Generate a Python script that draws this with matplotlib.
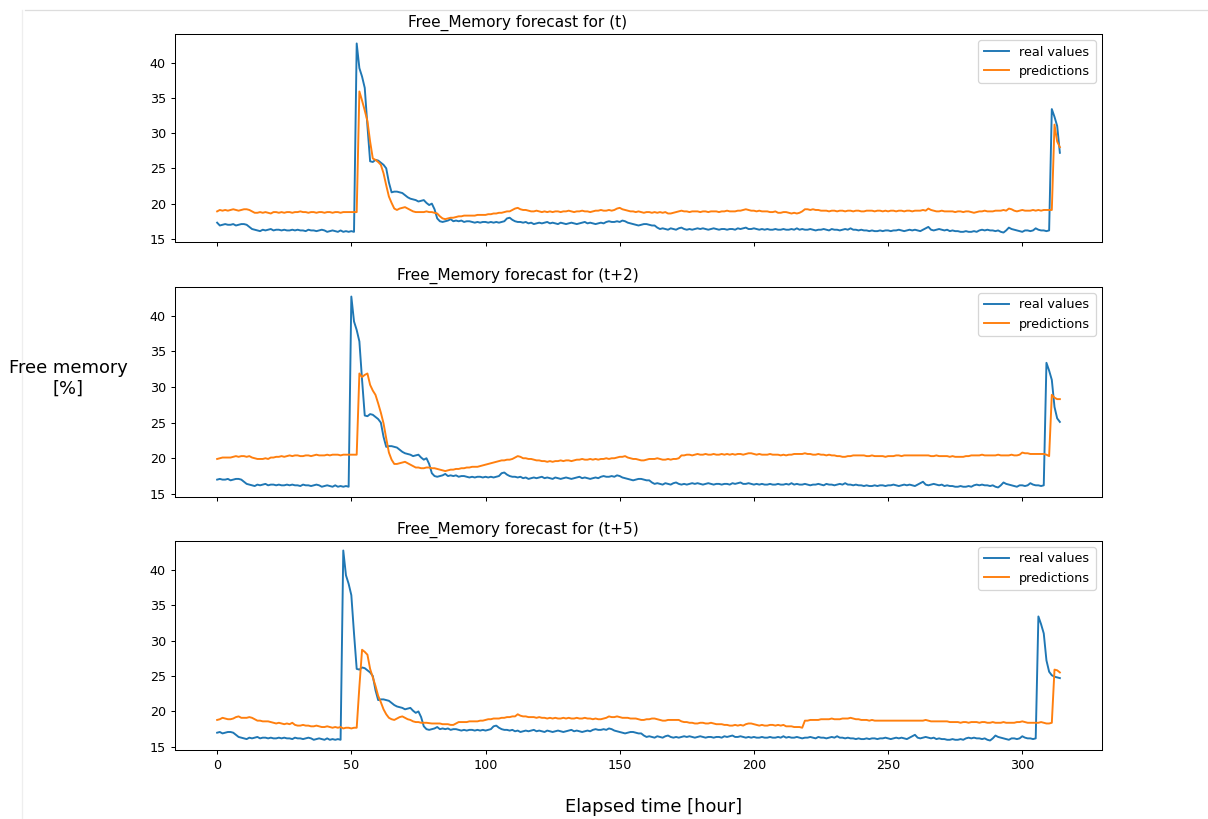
import numpy as np
import matplotlib.pyplot as plt
from matplotlib.lines import Line2D

# Free memory [%] -- one observed series; panel k shows it shifted by its forecast step
real_base = [
    17.3, 16.9, 17.0, 17.1, 17.0, 17.0, 17.1, 16.9, 17.0, 17.1,
    17.1, 17.0, 16.7, 16.4, 16.3, 16.2, 16.1, 16.3, 16.2, 16.3,
    16.4, 16.2, 16.3, 16.3, 16.2, 16.3, 16.2, 16.2, 16.3, 16.2,
    16.3, 16.2, 16.2, 16.1, 16.3, 16.2, 16.2, 16.1, 16.2, 16.3,
    16.2, 16.0, 16.1, 16.2, 16.1, 16.0, 16.2, 16.0, 16.1, 16.0,
    16.1, 16.0, 42.7, 39.2, 38.0, 36.4, 31.0, 26.0, 25.9, 26.2,
    26.1, 25.8, 25.5, 25.0, 23.0, 21.6, 21.7, 21.7, 21.6, 21.5,
    21.2, 20.9, 20.7, 20.6, 20.5, 20.3, 20.4, 20.5, 20.1, 19.8,
    20.0, 19.2, 17.9, 17.5, 17.4, 17.5, 17.6, 17.8, 17.5, 17.6,
    17.5, 17.6, 17.4, 17.5, 17.5, 17.4, 17.3, 17.4, 17.3, 17.4,
    17.4, 17.3, 17.4, 17.3, 17.4, 17.3, 17.4, 17.5, 17.9, 18.0,
    17.7, 17.5, 17.4, 17.4, 17.3, 17.4, 17.2, 17.3, 17.1, 17.2,
    17.3, 17.2, 17.3, 17.4, 17.2, 17.3, 17.2, 17.1, 17.3, 17.2,
    17.1, 17.2, 17.3, 17.2, 17.1, 17.2, 17.3, 17.4, 17.2, 17.3,
    17.2, 17.1, 17.2, 17.3, 17.2, 17.4, 17.5, 17.4, 17.4, 17.5,
    17.4, 17.6, 17.5, 17.3, 17.2, 17.1, 17.0, 16.9, 17.0, 17.1,
    17.1, 17.0, 16.9, 16.9, 16.6, 16.4, 16.5, 16.4, 16.3, 16.5,
    16.4, 16.3, 16.5, 16.6, 16.4, 16.3, 16.4, 16.3, 16.4, 16.5,
    16.4, 16.5, 16.4, 16.3, 16.4, 16.5, 16.4, 16.3, 16.4, 16.4,
    16.3, 16.4, 16.4, 16.3, 16.5, 16.4, 16.5, 16.6, 16.4, 16.4,
    16.5, 16.4, 16.3, 16.4, 16.3, 16.4, 16.3, 16.3, 16.4, 16.3,
    16.3, 16.4, 16.3, 16.3, 16.4, 16.3, 16.5, 16.3, 16.4, 16.3,
    16.3, 16.4, 16.3, 16.2, 16.3, 16.3, 16.4, 16.3, 16.2, 16.4,
    16.3, 16.3, 16.2, 16.3, 16.4, 16.3, 16.5, 16.3, 16.3, 16.2,
    16.3, 16.2, 16.2, 16.1, 16.2, 16.1, 16.1, 16.2, 16.1, 16.2,
    16.2, 16.1, 16.2, 16.2, 16.3, 16.2, 16.1, 16.2, 16.3, 16.2,
    16.3, 16.2, 16.1, 16.3, 16.5, 16.7, 16.3, 16.2, 16.3, 16.4,
    16.3, 16.2, 16.3, 16.1, 16.2, 16.1, 16.1, 16.0, 16.0, 16.1,
    16.0, 16.0, 16.1, 16.0, 16.2, 16.3, 16.2, 16.3, 16.2, 16.2,
    16.1, 16.2, 16.0, 15.9, 16.2, 16.6, 16.4, 16.3, 16.2, 16.1,
    16.0, 16.2, 16.2, 16.1, 16.2, 16.5, 16.3, 16.2, 16.2, 16.1,
    16.2, 33.4, 32.3, 31.0, 27.2, 25.6, 25.1, 24.9, 24.8, 24.7,
]

pred_t = [
    18.9, 19.1, 19.0, 19.1, 19.0, 19.1, 19.2, 19.1, 19.0, 19.1,
    19.2, 19.2, 19.1, 18.9, 18.7, 18.7, 18.8, 18.7, 18.8, 18.7,
    18.6, 18.8, 18.8, 18.7, 18.8, 18.7, 18.8, 18.8, 18.7, 18.8,
    18.8, 18.9, 18.8, 18.8, 18.7, 18.8, 18.8, 18.7, 18.8, 18.8,
    18.7, 18.8, 18.8, 18.7, 18.8, 18.8, 18.7, 18.8, 18.8, 18.8,
    18.8, 18.8, 18.8, 35.9, 34.6, 33.2, 31.7, 28.8, 26.4, 26.2,
    25.9, 25.5, 24.3, 22.6, 21.0, 20.1, 19.3, 19.1, 19.3, 19.4,
    19.5, 19.3, 19.1, 18.9, 18.8, 18.8, 18.8, 18.8, 18.9, 18.8,
    18.8, 18.7, 18.6, 18.2, 17.9, 17.8, 17.9, 18.0, 18.0, 18.1,
    18.2, 18.2, 18.3, 18.3, 18.3, 18.3, 18.3, 18.4, 18.4, 18.4,
    18.4, 18.5, 18.5, 18.6, 18.6, 18.7, 18.7, 18.8, 18.9, 18.9,
    19.1, 19.3, 19.4, 19.2, 19.1, 19.1, 19.0, 18.9, 18.9, 19.0,
    18.9, 18.8, 18.9, 18.8, 18.9, 18.8, 18.9, 18.9, 18.8, 18.9,
    18.9, 19.0, 18.9, 18.8, 18.9, 18.9, 19.0, 18.9, 18.9, 18.8,
    18.9, 19.0, 19.0, 19.1, 19.0, 19.0, 19.1, 19.0, 19.1, 19.3,
    19.4, 19.2, 19.1, 19.0, 18.9, 18.9, 18.8, 18.9, 18.8, 18.7,
    18.8, 18.8, 18.7, 18.8, 18.7, 18.8, 18.7, 18.8, 18.6, 18.6,
    18.7, 18.8, 18.9, 19.0, 18.9, 18.9, 18.8, 18.9, 18.9, 18.9,
    18.8, 18.9, 18.9, 18.8, 18.9, 18.9, 18.9, 18.8, 18.9, 18.9,
    19.0, 18.9, 18.9, 18.9, 19.0, 19.0, 19.1, 19.2, 19.1, 19.0,
    19.0, 18.9, 19.0, 18.9, 18.9, 18.9, 18.8, 18.8, 18.9, 18.7,
    18.7, 18.8, 18.8, 18.7, 18.6, 18.7, 18.6, 18.7, 18.9, 19.2,
    19.2, 19.1, 19.2, 19.1, 19.1, 19.0, 19.0, 19.0, 18.9, 19.0,
    19.0, 18.9, 19.0, 19.0, 18.9, 19.0, 19.0, 18.9, 19.0, 19.0,
    18.9, 18.9, 19.0, 19.0, 19.0, 18.9, 19.0, 19.0, 18.9, 19.0,
    18.9, 19.0, 19.0, 18.9, 19.0, 19.0, 18.9, 19.0, 19.0, 18.9,
    19.0, 19.0, 19.0, 19.1, 19.0, 19.3, 19.1, 19.0, 18.9, 18.9,
    19.0, 18.9, 18.9, 18.9, 18.9, 18.8, 18.9, 18.9, 18.8, 18.9,
    18.9, 18.8, 18.7, 18.8, 18.9, 18.9, 19.0, 18.9, 18.9, 18.9,
    19.0, 19.0, 19.0, 19.1, 19.0, 19.3, 19.2, 19.0, 18.9, 19.0,
    19.1, 19.0, 19.0, 19.0, 19.1, 19.0, 19.1, 19.0, 19.1, 19.1,
    19.1, 19.1, 31.2, 28.8, 28.0,
]

pred_t2 = [
    19.9, 20.0, 20.1, 20.1, 20.1, 20.1, 20.2, 20.3, 20.2, 20.3,
    20.3, 20.2, 20.3, 20.1, 20.0, 19.9, 19.9, 19.9, 20.0, 19.9,
    20.1, 20.1, 20.2, 20.2, 20.3, 20.2, 20.3, 20.4, 20.3, 20.4,
    20.4, 20.3, 20.3, 20.4, 20.4, 20.3, 20.4, 20.5, 20.4, 20.4,
    20.4, 20.5, 20.4, 20.5, 20.5, 20.5, 20.4, 20.5, 20.5, 20.5,
    20.5, 20.5, 20.5, 31.9, 31.4, 31.7, 31.9, 30.3, 29.5, 28.9,
    27.7, 26.4, 24.9, 22.8, 20.8, 19.8, 19.2, 19.2, 19.3, 19.4,
    19.5, 19.3, 19.1, 18.9, 18.7, 18.7, 18.6, 18.6, 18.7, 18.7,
    18.6, 18.6, 18.5, 18.4, 18.3, 18.2, 18.3, 18.4, 18.4, 18.5,
    18.5, 18.6, 18.6, 18.7, 18.7, 18.8, 18.8, 18.8, 18.9, 19.0,
    19.1, 19.2, 19.3, 19.4, 19.5, 19.6, 19.7, 19.7, 19.8, 19.8,
    19.9, 20.1, 20.3, 20.2, 20.0, 20.0, 19.9, 19.9, 19.8, 19.7,
    19.7, 19.6, 19.6, 19.5, 19.6, 19.5, 19.6, 19.6, 19.7, 19.6,
    19.7, 19.7, 19.6, 19.7, 19.8, 19.8, 19.9, 19.8, 19.8, 19.9,
    19.8, 19.9, 19.8, 19.9, 19.9, 20.0, 19.9, 20.0, 20.0, 20.1,
    20.2, 20.2, 20.3, 20.1, 20.0, 19.9, 19.9, 19.8, 19.7, 19.7,
    19.8, 19.9, 19.9, 19.9, 20.0, 19.9, 19.8, 19.8, 19.9, 19.8,
    19.9, 19.9, 20.0, 20.4, 20.4, 20.5, 20.5, 20.4, 20.5, 20.6,
    20.5, 20.5, 20.6, 20.5, 20.5, 20.6, 20.5, 20.5, 20.6, 20.5,
    20.6, 20.5, 20.6, 20.5, 20.6, 20.6, 20.5, 20.6, 20.7, 20.7,
    20.6, 20.5, 20.6, 20.5, 20.5, 20.5, 20.6, 20.5, 20.5, 20.5,
    20.4, 20.5, 20.4, 20.5, 20.5, 20.6, 20.6, 20.6, 20.6, 20.7,
    20.6, 20.6, 20.5, 20.5, 20.6, 20.5, 20.5, 20.4, 20.5, 20.4,
    20.4, 20.3, 20.3, 20.2, 20.2, 20.3, 20.3, 20.4, 20.4, 20.4,
    20.4, 20.4, 20.3, 20.3, 20.4, 20.3, 20.3, 20.3, 20.3, 20.2,
    20.3, 20.3, 20.3, 20.4, 20.4, 20.3, 20.4, 20.4, 20.4, 20.4,
    20.4, 20.4, 20.4, 20.4, 20.4, 20.4, 20.3, 20.3, 20.4, 20.3,
    20.3, 20.3, 20.3, 20.2, 20.3, 20.2, 20.2, 20.2, 20.2, 20.3,
    20.3, 20.4, 20.4, 20.4, 20.4, 20.5, 20.4, 20.4, 20.4, 20.4,
    20.4, 20.5, 20.4, 20.4, 20.4, 20.4, 20.5, 20.4, 20.4, 20.5,
    20.8, 20.7, 20.7, 20.6, 20.6, 20.6, 20.6, 20.6, 20.6, 20.5,
    20.3, 28.9, 28.5, 28.3, 28.3,
]

pred_t5 = [
    18.8, 18.9, 19.1, 19.0, 18.9, 18.9, 19.0, 19.2, 19.3, 19.1,
    19.1, 19.1, 19.2, 19.1, 18.9, 18.7, 18.7, 18.6, 18.6, 18.6,
    18.5, 18.4, 18.3, 18.4, 18.3, 18.2, 18.3, 18.2, 18.4, 18.1,
    18.0, 18.0, 18.1, 18.0, 18.0, 17.9, 17.9, 18.0, 17.9, 17.8,
    17.8, 17.9, 17.8, 17.7, 17.8, 17.7, 17.8, 17.6, 17.7, 17.7,
    17.6, 17.7, 17.7, 23.5, 28.7, 28.4, 28.0, 26.0, 24.8, 23.6,
    22.2, 21.3, 20.3, 19.6, 19.1, 18.9, 18.8, 19.0, 19.2, 19.3,
    19.1, 18.9, 18.8, 18.6, 18.5, 18.5, 18.4, 18.4, 18.4, 18.35,
    18.3, 18.3, 18.3, 18.3, 18.2, 18.2, 18.2, 18.1, 18.1, 18.3,
    18.5, 18.5, 18.5, 18.5, 18.6, 18.6, 18.6, 18.6, 18.7, 18.7,
    18.8, 18.9, 18.9, 19.0, 19.0, 19.0, 19.1, 19.1, 19.2, 19.2,
    19.3, 19.3, 19.6, 19.4, 19.3, 19.3, 19.2, 19.2, 19.2, 19.1,
    19.2, 19.1, 19.1, 19.0, 19.1, 19.0, 19.1, 19.0, 19.0, 19.1,
    19.0, 19.1, 19.0, 19.0, 19.1, 19.0, 19.0, 19.1, 19.0, 19.0,
    18.9, 19.0, 18.9, 18.9, 19.0, 19.1, 19.3, 19.2, 19.2, 19.3,
    19.2, 19.1, 19.1, 19.1, 19.0, 19.0, 19.0, 18.9, 18.8, 18.8,
    18.9, 18.9, 19.0, 19.0, 18.9, 18.8, 18.7, 18.7, 18.8, 18.8,
    18.8, 18.8, 18.8, 18.6, 18.5, 18.5, 18.4, 18.4, 18.3, 18.3,
    18.4, 18.4, 18.3, 18.3, 18.4, 18.3, 18.2, 18.2, 18.2, 18.1,
    18.1, 18.0, 18.0, 18.1, 18.0, 18.1, 18.0, 18.2, 18.3, 18.3,
    18.2, 18.1, 18.0, 18.1, 18.0, 18.0, 18.1, 18.1, 18.0, 18.1,
    18.0, 18.1, 17.9, 17.9, 17.9, 17.8, 17.8, 17.8, 17.7, 18.7,
    18.7, 18.8, 18.8, 18.8, 18.8, 18.9, 18.9, 18.9, 18.9, 19.0,
    18.9, 18.9, 18.9, 19.0, 19.0, 19.0, 19.1, 19.0, 18.9, 18.9,
    18.8, 18.8, 18.8, 18.7, 18.8, 18.7, 18.7, 18.7, 18.7, 18.7,
    18.7, 18.7, 18.7, 18.7, 18.7, 18.7, 18.7, 18.7, 18.7, 18.7,
    18.7, 18.7, 18.7, 18.7, 18.8, 18.7, 18.6, 18.6, 18.6, 18.6,
    18.6, 18.6, 18.6, 18.5, 18.5, 18.5, 18.5, 18.4, 18.5, 18.5,
    18.4, 18.5, 18.5, 18.5, 18.4, 18.5, 18.5, 18.4, 18.4, 18.5,
    18.4, 18.4, 18.4, 18.5, 18.4, 18.4, 18.4, 18.4, 18.5, 18.5,
    18.6, 18.5, 18.4, 18.4, 18.4, 18.4, 18.4, 18.5, 18.4, 18.3,
    18.3, 18.4, 25.9, 25.8, 25.5,
]

steps = [0, 2, 5]
preds = [pred_t, pred_t2, pred_t5]
titles = ['Free_Memory forecast for (t)',
          'Free_Memory forecast for (t+2)',
          'Free_Memory forecast for (t+5)']

W, H, DPI = 1208, 819, 92
fig, axes = plt.subplots(3, 1, sharex=True, figsize=(W / DPI, H / DPI), dpi=DPI)

# axes boxes in pixels (left, top, right, bottom)
boxes = [(175, 34, 1102, 242), (175, 287, 1102, 497), (175, 541, 1102, 750)]

for ax, box, step, pred, title in zip(axes, boxes, steps, preds, titles):
    l, t, r, b = box
    ax.set_position([l / W, 1 - b / H, (r - l) / W, (b - t) / H])
    hours = np.arange(len(pred))
    real = real_base[step:step + len(pred)]
    ax.plot(hours, real, label='real values')
    ax.plot(hours, pred, label='predictions')
    ax.set_title(title, x=0.37)
    ax.legend(loc='upper right')

fig.text(68 / W, 1 - 378 / H, 'Free memory\n[%]', ha='center', va='center',
         fontsize=14, multialignment='center')
fig.text(654 / W, 1 - 807 / H, 'Elapsed time [hour]', ha='center', va='center',
         fontsize=14)

# faint notebook cell border from the screenshot
fig.add_artist(Line2D([25 / W, 1.0], [1 - 10 / H, 1 - 10 / H], color='#dddddd', lw=1))
fig.add_artist(Line2D([22 / W, 22 / W], [0.0, 1 - 10 / H], color='#eeeeee', lw=1))

fig.savefig('out.png', dpi=DPI)
